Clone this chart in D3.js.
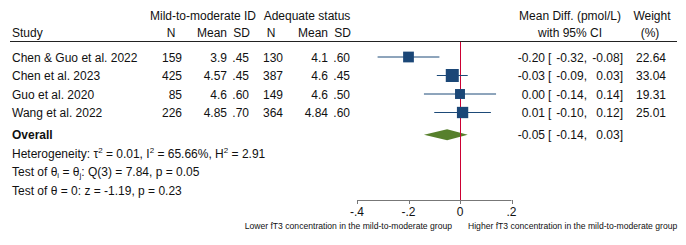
<!DOCTYPE html>
<html lang="en">
<head>
    <meta charset="UTF-8">
    <title>Forest plot - fT3</title>
    <script src="https://d3js.org/d3.v7.min.js"></script>
    <style>
        body {
            margin: 0;
            background-color: #ffffff;
        }
        svg text {
            font-family: 'Liberation Sans', Arial, sans-serif;
            font-size: 12px;
            fill: #111;
        }
    </style>
</head>
<body>
    <div id="chart"></div>

    <script>
        // study data
        const studies = ["Chen & Guo et al. 2022", "Chen et al. 2023", "Guo et al. 2020", "Wang et al. 2022"];
        const n1 = [159, 425, 85, 226];
        const mean1 = [3.9, 4.57, 4.6, 4.85];
        const sd1 = [0.45, 0.45, 0.60, 0.70];
        const n2 = [130, 387, 149, 364];
        const mean2 = [4.1, 4.6, 4.6, 4.84];
        const sd2 = [0.60, 0.45, 0.50, 0.60];
        const est = [-0.20, -0.03, 0.00, 0.01];
        const lo = [-0.32, -0.09, -0.14, -0.10];
        const hi = [-0.08, 0.03, 0.14, 0.12];
        const weight = [22.64, 33.04, 19.31, 25.01];

        const overall = {est: -0.05, lo: -0.14, hi: 0.03};
        const ticks = [-0.4, -0.2, 0, 0.2];

        const width = 686;
        const height = 245;

        const svg = d3.select("#chart")
            .append("svg")
            .attr("width", width)
            .attr("height", height);

        const x = d3.scaleLinear().domain([-0.4, 0.2]).range([357, 511.5]);
        // row index -> vertical centre
        const y = d3.scaleLinear().domain([0, 1]).range([57, 75.5]);
        const size = d3.scaleSqrt().domain([0, 33.04]).range([0, 13]);

        // plain hyphen for negatives, like the original
        const loc = d3.formatLocale({decimal: ".", thousands: ",", grouping: [3], currency: ["", ""], minus: "-"});
        const f2 = loc.format(".2f");
        const sdFmt = v => f2(v).replace(/^0\./, ".");
        const tickFmt = v => v === 0 ? "0" : loc.format(".1f")(v).replace("0.", ".");

        // headers
        const head = svg.append("g");
        head.append("text").attr("x", 203).attr("y", 20).attr("text-anchor", "middle").text("Mild-to-moderate ID");
        head.append("text").attr("x", 307).attr("y", 20).attr("text-anchor", "middle").text("Adequate status");
        head.append("text").attr("x", 570).attr("y", 20).attr("text-anchor", "middle").text("Mean Diff. (pmol/L)");
        head.append("text").attr("x", 652).attr("y", 20).attr("text-anchor", "middle").text("Weight");

        head.append("text").attr("x", 12).attr("y", 37).text("Study");
        head.append("text").attr("x", 171).attr("y", 37).attr("text-anchor", "middle").text("N");
        head.append("text").attr("x", 227).attr("y", 37).attr("text-anchor", "end").text("Mean");
        head.append("text").attr("x", 250).attr("y", 37).attr("text-anchor", "end").text("SD");
        head.append("text").attr("x", 271).attr("y", 37).attr("text-anchor", "middle").text("N");
        head.append("text").attr("x", 328).attr("y", 37).attr("text-anchor", "end").text("Mean");
        head.append("text").attr("x", 351).attr("y", 37).attr("text-anchor", "end").text("SD");
        head.append("text").attr("x", 570).attr("y", 37).attr("text-anchor", "middle").text("with 95% CI");
        head.append("text").attr("x", 650).attr("y", 37).attr("text-anchor", "middle").text("(%)");

        svg.append("line")
            .attr("x1", 10).attr("x2", 677)
            .attr("y1", 41.5).attr("y2", 41.5)
            .attr("stroke", "#222").attr("stroke-width", 1);

        // table columns
        const cols = [
            {vals: n1, x: 182, fmt: String},
            {vals: mean1, x: 227, fmt: String},
            {vals: sd1, x: 249, fmt: sdFmt},
            {vals: n2, x: 283, fmt: String},
            {vals: mean2, x: 328, fmt: String},
            {vals: sd2, x: 350, fmt: sdFmt}
        ];

        const rows = svg.append("g");
        studies.forEach((s, i) => {
            const yy = y(i) + 4.5;
            rows.append("text").attr("x", 12).attr("y", yy).text(s);
            cols.forEach(c => {
                rows.append("text").attr("x", c.x).attr("y", yy)
                    .attr("text-anchor", "end").text(c.fmt(c.vals[i]));
            });
        });

        function ciText(g, yy, e, l, h) {
            g.append("text").attr("x", 545).attr("y", yy).attr("text-anchor", "end").text(f2(e));
            g.append("text").attr("x", 548).attr("y", yy).text("[");
            g.append("text").attr("x", 587).attr("y", yy).attr("text-anchor", "end").text(f2(l) + ",");
            g.append("text").attr("x", 623).attr("y", yy).attr("text-anchor", "end").text(f2(h) + "]");
        }

        studies.forEach((s, i) => {
            const yy = y(i) + 4.5;
            ciText(rows, yy, est[i], lo[i], hi[i]);
            rows.append("text").attr("x", 666).attr("y", yy).attr("text-anchor", "end").text(f2(weight[i]));
        });

        // overall
        const yo = y(4.2);
        rows.append("text").attr("x", 12).attr("y", yo + 4.5)
            .attr("font-weight", "bold").text("Overall");
        ciText(rows, yo + 4.5, overall.est, overall.lo, overall.hi);

        // footer statistics
        const foot = svg.append("g");
        const het = foot.append("text").attr("x", 12).attr("y", y(5.2) + 4.5);
        het.append("tspan").text("Heterogeneity: \u03C4");
        het.append("tspan").attr("font-size", "8px").attr("dy", -5).text("2");
        het.append("tspan").attr("dy", 5).text(" = 0.01, I");
        het.append("tspan").attr("font-size", "8px").attr("dy", -5).text("2");
        het.append("tspan").attr("dy", 5).text(" = 65.66%, H");
        het.append("tspan").attr("font-size", "8px").attr("dy", -5).text("2");
        het.append("tspan").attr("dy", 5).text(" = 2.91");

        const t1 = foot.append("text").attr("x", 12).attr("y", y(6.2) + 4.5);
        t1.append("tspan").text("Test of \u03B8");
        t1.append("tspan").attr("font-size", "8px").attr("dy", 2).text("i");
        t1.append("tspan").attr("dy", -2).text(" = \u03B8");
        t1.append("tspan").attr("font-size", "8px").attr("dy", 2).text("j");
        t1.append("tspan").attr("dy", -2).text(": Q(3) = 7.84, p = 0.05");

        foot.append("text").attr("x", 12).attr("y", y(7.2) + 4.5)
            .text("Test of \u03B8 = 0: z = -1.19, p = 0.23");

        // plot marks
        const plot = svg.append("g");

        plot.append("path")
            .attr("d", `M${x(overall.lo)},${yo} L${x(overall.est)},${yo - 5.5} L${x(overall.hi)},${yo} L${x(overall.est)},${yo + 5.5} Z`)
            .attr("fill", "#57802c");

        plot.append("line")
            .attr("x1", x(0) + 0.5).attr("x2", x(0) + 0.5)
            .attr("y1", 42).attr("y2", 200)
            .attr("stroke", "#cc0033").attr("stroke-width", 1);

        studies.forEach((s, i) => {
            plot.append("line")
                .attr("x1", x(lo[i])).attr("x2", x(hi[i]))
                .attr("y1", y(i)).attr("y2", y(i))
                .attr("stroke", "#1d4a78").attr("stroke-width", 1);
            const side = size(weight[i]);
            plot.append("rect")
                .attr("x", x(est[i]) - side / 2)
                .attr("y", y(i) - side / 2)
                .attr("width", side).attr("height", side)
                .attr("fill", "#1b4777");
        });

        // axis
        const axis = svg.append("g").attr("transform", "translate(0,200)");
        axis.append("line")
            .attr("x1", x(-0.4)).attr("x2", x(0.2))
            .attr("y1", 0.5).attr("y2", 0.5)
            .attr("stroke", "#777");
        ticks.forEach(t => {
            axis.append("line")
                .attr("x1", Math.round(x(t)) + 0.5).attr("x2", Math.round(x(t)) + 0.5)
                .attr("y1", 0).attr("y2", 4)
                .attr("stroke", "#777");
            axis.append("text")
                .attr("x", x(t)).attr("y", 16)
                .attr("text-anchor", "middle")
                .text(tickFmt(t));
        });
        axis.append("text").attr("x", 452).attr("y", 28.5)
            .attr("text-anchor", "end").style("font-size", "8.6px")
            .text("Lower fT3 concentration in the mild-to-moderate group");
        axis.append("text").attr("x", 468).attr("y", 28.5)
            .style("font-size", "8.6px")
            .text("Higher fT3 concentration in the mild-to-moderate group");
    </script>
</body>
</html>
